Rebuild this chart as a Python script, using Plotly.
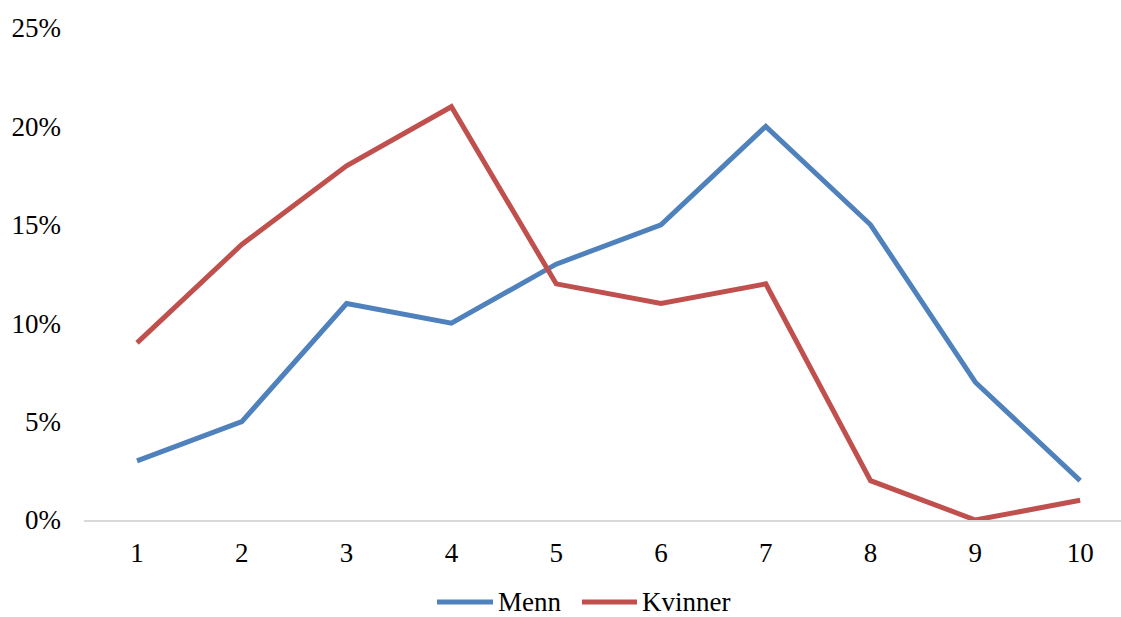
import plotly.graph_objects as go

categories = [1, 2, 3, 4, 5, 6, 7, 8, 9, 10]
menn = [0.03, 0.05, 0.11, 0.10, 0.13, 0.15, 0.20, 0.15, 0.07, 0.02]
kvinner = [0.09, 0.14, 0.18, 0.21, 0.12, 0.11, 0.12, 0.02, 0.00, 0.01]
y_ticks = [0, 0.05, 0.10, 0.15, 0.20, 0.25]
y_tick_labels = ["0%", "5%", "10%", "15%", "20%", "25%"]
series_names = ["Menn", "Kvinner"]
series_colors = ["#4F81BD", "#C0504D"]

font = dict(family="Liberation Serif, Times New Roman, serif", size=27, color="#000000")

W, H = 1121, 617
ML, MR, MT, MB = 84, 0, 28, 97
PW, PH = W - ML - MR, H - MT - MB


def px_x(p):
    return (p - ML) / PW


def px_y(p):
    return (H - MB - p) / PH


fig = go.Figure()
for name, vals, col in zip(series_names, [menn, kvinner], series_colors):
    fig.add_trace(go.Scatter(x=categories, y=vals, mode="lines", name=name,
                             line=dict(color=col, width=5), showlegend=False))

# manual legend (keeps position exact below the plot)
legend_items = [(437, 493, 497), (582, 637, 641)]
ly = 602
for (x0, x1, tx), name, col in zip(legend_items, series_names, series_colors):
    fig.add_shape(type="line", xref="paper", yref="paper",
                  x0=px_x(x0), x1=px_x(x1), y0=px_y(ly), y1=px_y(ly),
                  line=dict(color=col, width=5))
    fig.add_annotation(xref="paper", yref="paper", x=px_x(tx), y=px_y(ly),
                       xanchor="left", yanchor="middle", text=name, showarrow=False,
                       borderpad=0, font=font)

fig.update_layout(
    width=W, height=H,
    margin=dict(l=ML, r=MR, t=MT, b=MB),
    paper_bgcolor="white", plot_bgcolor="white",
    font=font,
    showlegend=False,
    xaxis=dict(range=[0.494, 10.39], tickmode="array", tickvals=categories,
               ticktext=[str(c) for c in categories], showgrid=False, zeroline=False,
               showline=True, linecolor="#D9D9D9", linewidth=2, ticks="",
               ticklabelstandoff=8, tickfont=font),
    yaxis=dict(range=[0, 0.25], tickmode="array", tickvals=y_ticks,
               ticktext=y_tick_labels, showgrid=False, zeroline=False,
               showline=False, ticks="", ticklabelstandoff=22, tickfont=font),
)

fig.write_html("out.html", config={"displayModeBar": False},
               post_script="document.body.style.margin='0';")
